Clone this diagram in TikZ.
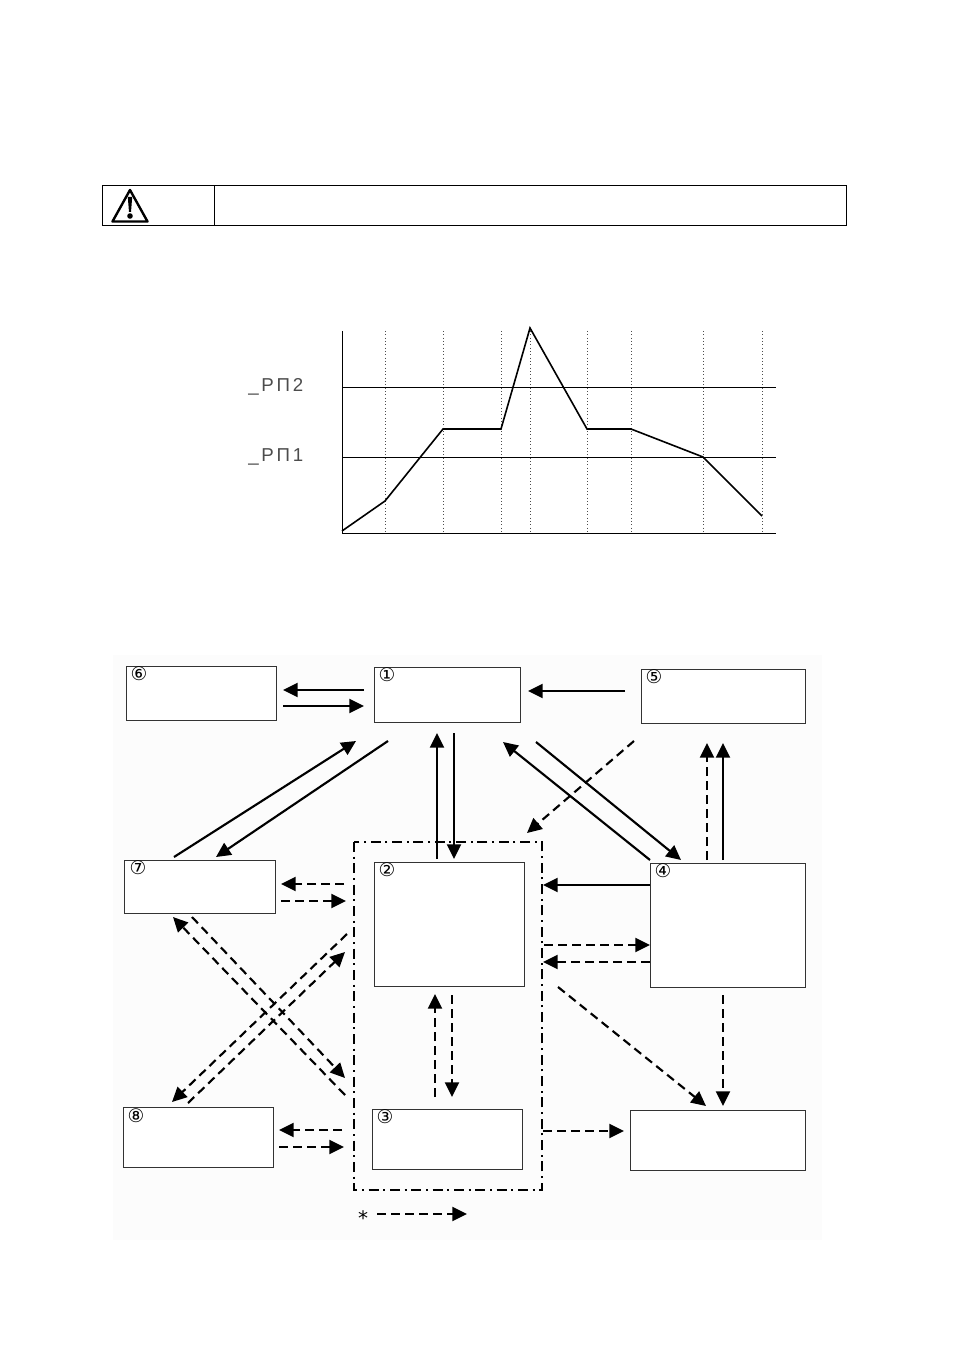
\documentclass[tikz,border=0pt]{standalone}
\usepackage{fontspec}
\setmainfont{DejaVu Sans}
\newfontfamily\segfont[LetterSpace=15]{Liberation Sans}
\usetikzlibrary{arrows.meta}
\tikzset{
  x=0.75pt,y=-0.75pt,
  box/.style={draw=black!80,line width=0.7pt,fill=white},
  numlabel/.style={font=\fontsize{14pt}{15pt}\selectfont,inner sep=0pt},
  seglabel/.style={font=\segfont\fontsize{14pt}{15pt}\selectfont,text=black!70,inner sep=0pt},
  flow/.style={line width=1.6pt,-{Triangle[length=11pt,width=10.5pt]}},
  dflow/.style={flow,dash pattern=on 6.5pt off 4pt},
  rule/.style={line width=0.75pt},
  grid/.style={line width=0.5pt,dotted,black!70},
  curve/.style={line width=1.2pt,line join=miter},
}
\newcommand{\conn}[4]{\coordinate (#1s) at (#3); \coordinate (#1e) at (#4); \draw[#2] (#1s) -- (#1e);}
\newcommand{\rbox}[5]{\path[box] (#2,#3) rectangle (#4,#5); \node[anchor=center,inner sep=0pt] (#1) at ({(#2+#4)/2},{(#3+#5)/2}) {};}
\begin{document}
\begin{tikzpicture}
\useasboundingbox (0,0) rectangle (954,1351);
\fill[white] (0,0) rectangle (954,1351);
\fill[black!1] (113,655) rectangle (822,1240);
% caution bar
\draw[rule] (102.5,185.5) rectangle (846.5,225.5);
\draw[rule] (214,185.5) -- (214,225.5);
\draw[line width=1.8pt,line join=round] (130,190) -- (112.5,221.5) -- (147.5,221.5) -- cycle;
\fill (127.8,197) -- (132.2,197) -- (131,212) -- (129,212) -- cycle;
\fill (130,216) circle (2.1pt);
% chart
\draw[grid] (385,331) -- (385,533) (443,331) -- (443,533) (501,331) -- (501,533) (530,331) -- (530,533)
  (587,331) -- (587,533) (631,331) -- (631,533) (703,331) -- (703,533) (762,331) -- (762,533);
\draw[rule] (342,331) -- (342,533) -- (776,533);
\draw[rule] (342,387) -- (776,387);
\draw[rule] (342,457) -- (776,457);
\draw[curve] (342,531) -- (385,501) -- (443,429) -- (501,429) -- (530,328) -- (587,429) -- (631,429) -- (703,457) -- (762,516);
\node[seglabel,anchor=west] (pn2) at (248,387) {\_PΠ2};
\node[seglabel,anchor=west] (pn1) at (248,457) {\_PΠ1};
% boxes
\rbox{b6}{126}{666}{276}{720}
\rbox{b1}{374}{667}{520}{722}
\rbox{b5}{641}{669}{805}{723}
\rbox{b7}{124}{860}{275}{913}
\rbox{b2}{374}{862}{524}{986}
\rbox{b4}{650}{863}{805}{987}
\rbox{b8}{123}{1107}{273}{1167}
\rbox{b3}{372}{1109}{522}{1169}
\rbox{b9}{630}{1110}{805}{1170}
\node[numlabel] (n6) at (139,674) {⑥};
\node[numlabel] (n1) at (387,675) {①};
\node[numlabel] (n5) at (654,677) {⑤};
\node[numlabel] (n7) at (138,868) {⑦};
\node[numlabel] (n2) at (387,870) {②};
\node[numlabel] (n4) at (663,871) {④};
\node[numlabel] (n8) at (136,1116) {⑧};
\node[numlabel] (n3) at (385,1117) {③};
% group
\draw[line width=1.4pt,dash pattern=on 7.5pt off 3.5pt on 1.5pt off 3.5pt] (354,842) rectangle (542,1190);
% solid flows
\conn{a}{flow}{364,690}{283,690}
\conn{c}{flow}{283,706}{364,706}
\conn{d}{flow}{625,691}{528,691}
\conn{e}{flow}{174,857}{356,741}
\conn{f}{flow}{388,741}{216,857}
\conn{g}{flow}{437,859}{437,733}
\conn{h}{flow}{454,733}{454,859}
\conn{i}{flow}{650,860}{503,742}
\conn{j}{flow}{536,742}{681,860}
\conn{k}{flow}{650,885}{543,885}
\conn{l}{flow}{723,860}{723,743}
% dashed flows
\conn{m}{dflow}{707,860}{707,743}
\conn{o}{dflow}{634,741}{527,833}
\conn{p}{dflow}{344,884}{281,884}
\conn{q}{dflow}{281,901}{346,901}
\conn{r}{dflow}{347,934}{172,1102}
\conn{s}{dflow}{188,1103}{345,952}
\conn{t}{dflow}{345,1095}{173,917}
\conn{u}{dflow}{192,917}{345,1078}
\conn{v}{dflow}{342,1130}{279,1130}
\conn{w}{dflow}{279,1147}{344,1147}
\conn{y}{dflow}{544,945}{650,945}
\conn{z}{dflow}{650,962}{543,962}
\conn{aa}{dflow}{558,987}{706,1106}
\conn{ab}{dflow}{723,995}{723,1106}
\conn{ac}{dflow}{435,1097}{435,994}
\conn{ad}{dflow}{452,995}{452,1097}
\conn{ae}{dflow}{543,1131}{624,1131}
\conn{af}{dflow}{377,1214}{467,1214}
\node[inner sep=0pt,font=\fontsize{15pt}{16pt}\selectfont] (star) at (363,1218) {*};
\end{tikzpicture}
\end{document}
